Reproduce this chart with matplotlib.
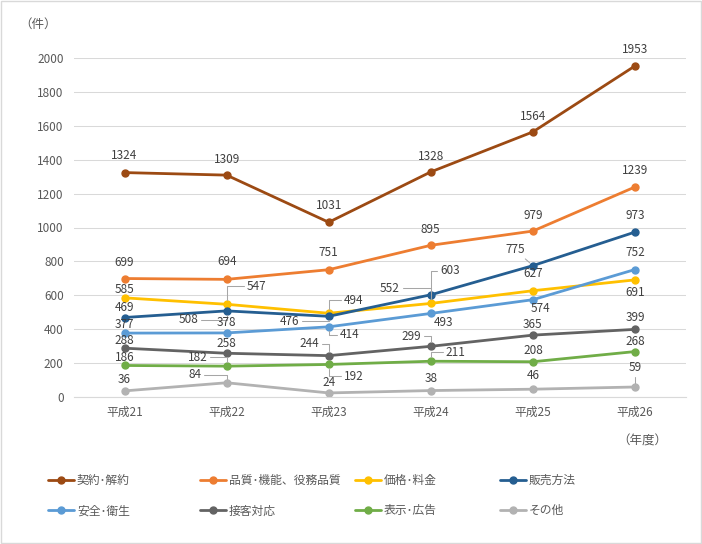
import matplotlib
matplotlib.use("Agg")
import matplotlib.pyplot as plt
from matplotlib.patches import Rectangle

plt.rcParams["font.family"] = ["Noto Sans CJK JP", "DejaVu Sans"]

years = ["平成21", "平成22", "平成23", "平成24", "平成25", "平成26"]
series_names = ["契約･解約", "品質･機能、役務品質", "価格･料金", "販売方法",
                "安全･衛生", "接客対応", "表示･広告", "その他"]
contract = [1324, 1309, 1031, 1328, 1564, 1953]
quality = [699, 694, 751, 895, 979, 1239]
price = [585, 547, 494, 552, 627, 691]
sales = [469, 508, 476, 603, 775, 973]
safety = [377, 378, 414, 493, 574, 752]
service = [288, 258, 244, 299, 365, 399]
labeling = [186, 182, 192, 211, 208, 268]
other = [36, 84, 24, 38, 46, 59]

colors = ["#9C4A13", "#ED7D31", "#FFC000", "#255E91",
          "#5B9BD5", "#636363", "#70AD47", "#B2B2B2"]

# label offsets in pixels (dx, dy up, leader: None / "angle" / "line")
label_pos = [
    [(0, 17, None), (0, 16, None), (0, 17, None), (0, 15, None), (0, 15, None), (0, 16, None)],
    [(0, 16, None), (0, 18, None), (0, 17, None), (0, 16, None), (0, 16, None), (0, 16, None)],
    [(0, 8, None), (30, 18, "angle"), (25, 13, "angle"), (-41, 15, "angle"), (0, 17, None), (0, -13, None)],
    [(0, 10, None), (-38, -9, "angle"), (-39, -5, "angle"), (19, 24, "angle"), (-18, 16, "line"), (0, 17, None)],
    [(0, 9, None), (0, 10, None), (21, -8, "angle"), (13, -9, None), (8, -9, None), (0, 17, None)],
    [(0, 8, None), (0, 10, None), (-19, 12, "angle"), (-19, 10, "angle"), (0, 11, None), (0, 12, None)],
    [(0, 8, None), (-29, 9, "angle"), (25, -12, "angle"), (25, 9, "angle"), (0, 11, None), (0, 10, None)],
    [(0, 11, None), (-32, 8, "angle"), (0, 10, None), (0, 12, None), (0, 14, None), (0, 19, "angle")],
]

W, H = 702, 544
fig = plt.figure(figsize=(W / 100, H / 100), dpi=100)
ax = fig.add_axes([73.5 / W, 147 / H, 612.5 / W, 339 / H])

x = list(range(len(years)))
all_series = [contract, quality, price, sales, safety, service, labeling, other]
lines = []
for vals, color, name, offs in zip(all_series, colors, series_names, label_pos):
    (ln,) = ax.plot(x, vals, color=color, lw=2, marker="o", ms=5,
                    clip_on=False, label=name, solid_capstyle="round")
    lines.append(ln)
    for xi, v, (dx, dy, leader) in zip(x, vals, offs):
        kw = {}
        if leader == "angle":
            kw["arrowprops"] = dict(arrowstyle="-", color="#A6A6A6", lw=0.75,
                                    shrinkA=0, shrinkB=3,
                                    connectionstyle="angle,angleA=0,angleB=90,rad=0")
        elif leader == "line":
            kw["arrowprops"] = dict(arrowstyle="-", color="#A6A6A6", lw=0.75,
                                    shrinkA=0, shrinkB=3)
        ax.annotate(str(v), (xi, v), xytext=(dx, dy), textcoords="offset pixels",
                    ha="center", va="center", fontsize=8.5, color="#404040",
                    annotation_clip=False, **kw)

ax.set_xlim(-0.5, 5.5)
ax.set_ylim(0, 2000)
ax.set_yticks(range(0, 2001, 200))
ax.set_xticks(x)
ax.set_xticklabels(years)
ax.grid(axis="y", color="#D9D9D9", lw=0.75)
ax.set_axisbelow(True)
for side in ["top", "right", "left"]:
    ax.spines[side].set_visible(False)
ax.spines["bottom"].set_color("#D9D9D9")
ax.tick_params(length=0, labelsize=8.5, labelcolor="#595959")
ax.tick_params(axis="y", pad=7)
ax.tick_params(axis="x", pad=6)

fig.text(19 / W, 1 - 24 / H, "（件）", fontsize=9, color="#595959", va="center", ha="left")
fig.text(642 / W, 1 - 441 / H, "（年度）", fontsize=9, color="#595959", va="center", ha="center")

col_x = [48, 200, 355, 500]
for c, cx in enumerate(col_x):
    idx = [c, c + 4]
    fig.legend([lines[i] for i in idx], [series_names[i] for i in idx],
               loc="center left", bbox_to_anchor=(cx / W, 1 - 495.5 / H),
               frameon=False, borderpad=0, borderaxespad=0, handlelength=2.2,
               handletextpad=0.25, labelspacing=1.5, fontsize=8.5,
               labelcolor="#595959")

fig.patches.append(Rectangle((0.001, 0.001), 0.998, 0.998, transform=fig.transFigure,
                             fill=False, edgecolor="#D9D9D9", lw=1))

fig.savefig("out.png", dpi=100)
